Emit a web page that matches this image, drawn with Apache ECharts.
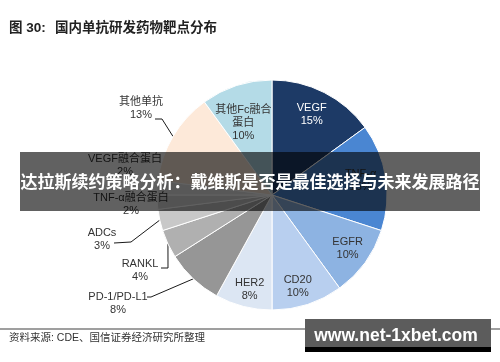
<!DOCTYPE html>
<html><head><meta charset="utf-8">
<script src="https://cdn.jsdelivr.net/npm/echarts@6/dist/echarts.min.js"></script>
<style>html,body{margin:0;padding:0;background:#fff}#c{width:500px;height:362px}</style>
</head><body><div id="c"></div>
<script>
// ---- data ----
const categories = ['VEGF','TNF-α','EGFR','CD20','HER2','PD-1/PD-L1','RANKL','ADCs','TNF-α融合蛋白','VEGF融合蛋白','其他单抗','其他Fc融合蛋白'];
const values = [15, 15, 10, 10, 8, 8, 4, 3, 2, 2, 13, 10];

// ---- styles ----
const sliceColors = ['#1d3a66','#4a86d2','#8db3e2','#b8cfef','#dce6f3','#969696','#b0b0b0','#c8c8c8','#d9d9d9','#e8e8e8','#fde9d9','#b4dbe7'];
const insideNames = ['VEGF','TNF-α','EGFR','CD20','HER2','其他Fc融合蛋白'];
const insideColors = {'VEGF':'#ffffff'};
const displayNames = {'其他Fc融合蛋白':'其他Fc融合\n蛋白'};
const INNER_RATIO = 0.78;
const insideNudge = {'VEGF':[-1,-1],'TNF-α':[0,0],'EGFR':[3,1],'CD20':[-2,6],'HER2':[0,8],'其他Fc融合蛋白':[-1,13]};
const outsideLayout = {
  '其他单抗': {c:[141,108.5], line:[[162,119],[155,119]]},
  'VEGF融合蛋白': {c:[125,165.5]},
  'TNF-α融合蛋白': {c:[131,204.5]},
  'ADCs': {c:[102,239], line:[[131,242],[114,243]]},
  'RANKL': {c:[140,270.5], line:[[168,268],[161,268]]},
  'PD-1/PD-L1': {c:[118,303.5], line:[[151,297],[147,297]]}
};
const FONT = '"Liberation Sans", "Noto Sans CJK SC", sans-serif';
const CENTER = [272, 195];
const R = 115;

const labelText = (i) => (displayNames[categories[i]] || categories[i]) + '\n' + values[i] + '%';

const mainData = categories.map((n, i) => {
  const L = outsideLayout[n];
  const inside = insideNames.indexOf(n) >= 0;
  return {
    name: n, value: values[i],
    itemStyle: {color: sliceColors[i]},
    label: {show: true, color: insideColors[n] || '#333333'},
    labelLine: inside
      ? {show: true, length: 6, length2: 4, lineStyle: {opacity: 0}}
      : {show: !!(L && L.line), length: 6, length2: 4}
  };
});

const chart = echarts.init(document.getElementById('c'), null, {renderer: 'canvas'});
chart.setOption({
  animation: false,
  backgroundColor: '#ffffff',
  series: [
    {
      type: 'pie', center: CENTER, radius: [0, R], startAngle: 90, clockwise: true,
      avoidLabelOverlap: false, silent: true, z: 2,
      itemStyle: {borderColor: '#ffffff', borderWidth: 1},
      label: {position: 'outside', formatter: (p) => labelText(p.dataIndex), fontFamily: FONT, fontSize: 11, lineHeight: 13, color: '#333333'},
      labelLine: {lineStyle: {color: '#1a1a1a', width: 1}, smooth: false},
      labelLayout: function (p) {
        const n = categories[p.dataIndex];
        if (insideNames.indexOf(n) >= 0) {
          const pts = p.labelLinePoints;
          if (!pts) return {};
          const cx = chart.getWidth() ? CENTER[0] : CENTER[0], cy = CENTER[1];
          const d = insideNudge[n] || [0, 0];
          return {
            x: cx + (pts[0][0] - cx) * INNER_RATIO + d[0],
            y: cy + (pts[0][1] - cy) * INNER_RATIO + d[1],
            align: 'center', verticalAlign: 'middle'
          };
        }
        const L = outsideLayout[n];
        if (!L) return {};
        const o = {x: L.c[0], y: L.c[1], align: 'center', verticalAlign: 'middle'};
        if (L.line && p.labelLinePoints) o.labelLinePoints = [p.labelLinePoints[0], L.line[0], L.line[1]];
        return o;
      },
      emphasis: {disabled: true},
      data: mainData
    }
  ],
  graphic: {elements: [
    {type: 'text', x: 9, y: 28, z: 10, style: {text: '图 30:', fontFamily: FONT, fontSize: 13.5, fontWeight: 'bold', fill: '#222', verticalAlign: 'middle'}},
    {type: 'text', x: 55, y: 28, z: 10, style: {text: '国内单抗研发药物靶点分布', fontFamily: FONT, fontSize: 13.5, fontWeight: 'bold', fill: '#222', verticalAlign: 'middle'}},
    {type: 'line', z: 10, shape: {x1: 0, y1: 329, x2: 500, y2: 329}, style: {stroke: '#7f7f7f', lineWidth: 1.5}},
    {type: 'text', x: 9, y: 338, z: 10, style: {text: '资料来源: CDE、国信证券经济研究所整理', fontFamily: FONT, fontSize: 10.5, fill: '#333', verticalAlign: 'middle'}},
    {type: 'rect', z: 100, shape: {x: 20, y: 152, width: 460, height: 59}, style: {fill: 'rgba(0,0,0,0.62)'}},
    {type: 'text', x: 250, y: 182, z: 101, style: {text: '达拉斯续约策略分析：戴维斯是否是最佳选择与未来发展路径', fontFamily: '"Noto Sans CJK SC", sans-serif', fontSize: 17, fontWeight: 'bold', fill: '#ffffff', align: 'center', verticalAlign: 'middle'}},
    {type: 'rect', z: 100, shape: {x: 305, y: 319, width: 186, height: 28}, style: {fill: '#5c5c5c'}},
    {type: 'rect', z: 100, shape: {x: 305, y: 347, width: 186, height: 5}, style: {fill: '#000000'}},
    {type: 'text', x: 396, y: 336, z: 101, style: {text: 'www.net-1xbet.com', fontFamily: '"Liberation Sans", sans-serif', fontSize: 17.5, fontWeight: 'bold', fill: '#ffffff', align: 'center', verticalAlign: 'middle'}}
  ]}
});
</script></body></html>
